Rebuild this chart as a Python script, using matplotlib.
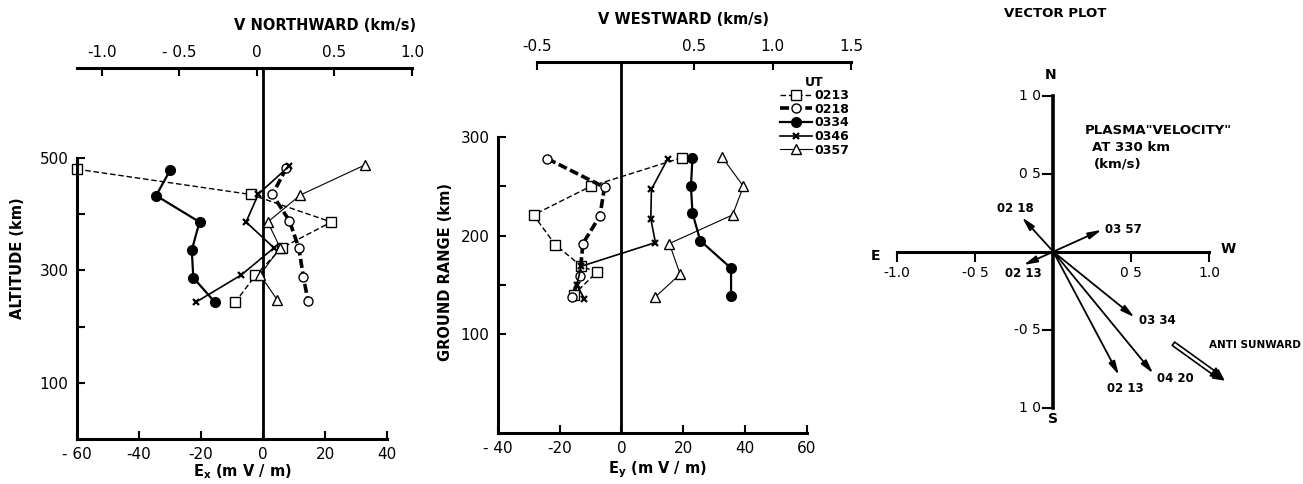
import matplotlib.pyplot as plt
from matplotlib.lines import Line2D

plt.rcParams['font.family'] = 'DejaVu Sans'
plt.rcParams['font.weight'] = 'bold'

# --- left panel: Ex (mV/m) vs altitude (km) ---
ex_0213 = [-60, -4, 22, 6, -2.5, -9]
alt_0213 = [480, 435, 386, 340, 291, 243]
ex_0218 = [7.5, 3, 8.5, 11.5, 13, 14.5]
alt_0218 = [482, 435, 388, 340, 288, 245]
ex_0334 = [-30, -34.5, -20.5, -23, -22.5, -15.5]
alt_0334 = [478, 433, 386, 336, 287, 243]
ex_0346 = [8.5, -1.5, -5.5, 3.5, -7, -21.5]
alt_0346 = [486, 436, 386, 340, 292, 244]
ex_0357 = [33, 12, 1.5, 5.5, -1, 4.5]
alt_0357 = [488, 434, 386, 340, 292, 248]

# --- middle panel: Ey (mV/m) vs ground range (km) ---
ey_0213 = [19.5, -10, -28.5, -21.5, -13, -8, -15.5]
gr_0213 = [279, 250, 221, 191, 169, 163, 140]
ey_0218 = [-24, -5.5, -7, -12.5, -13.5, -16]
gr_0218 = [278, 249, 220, 192, 159, 138]
ey_0334 = [23, 22.5, 23, 25.5, 35.5, 35.5]
gr_0334 = [279, 250, 223, 195, 167, 139]
ey_0346 = [15, 9.7, 9.5, 11, -13, -14.5, -12]
gr_0346 = [278, 247, 217, 193, 169, 150, 136]
ey_0357 = [32.5, 39.5, 36, 15.5, 19, 11]
gr_0357 = [280, 250, 221, 192, 161, 138]

# --- right panel: plasma velocity vectors at 330 km (km/s) ---
vec_labels = ['02 18', '03 57', '02 13', '03 34', '04 20', '02 13']
vec_west = [-0.20, 0.31, -0.19, 0.52, 0.64, 0.42]
vec_north = [0.22, 0.14, -0.085, -0.42, -0.78, -0.79]
anti_sun_start = (0.77, -0.59)
anti_sun_end = (1.09, -0.82)

ut_labels = ['0213', '0218', '0334', '0346', '0357']

W, H = 1303, 484
fig = plt.figure(figsize=(W / 100, H / 100), dpi=100)


def rect(x0, x1, y_top, y_bot):
    return [x0 / W, 1 - y_bot / H, (x1 - x0) / W, (y_bot - y_top) / H]


styles = {
    '0213': dict(color='black', lw=1.0, ls=(0, (4, 2)), marker='s', mfc='white', ms=6.5, mew=1.0),
    '0218': dict(color='black', lw=2.6, ls=(0, (2.5, 1)), marker='o', mfc='white', ms=6.5, mew=1.0),
    '0334': dict(color='black', lw=1.6, ls='-', marker='o', mfc='black', ms=7, mew=1.0),
    '0346': dict(color='black', lw=1.2, ls='-', marker='x', ms=5, mew=1.6),
    '0357': dict(color='black', lw=0.8, ls='-', marker='^', mfc='white', ms=6.5, mew=1.0),
}


def style_axes(ax):
    ax.patch.set_visible(False)
    for s in ['top', 'right']:
        ax.spines[s].set_visible(False)
    for s in ['left', 'bottom']:
        ax.spines[s].set_linewidth(2.2)
    ax.tick_params(direction='in', length=6, width=1.5, labelsize=11, pad=6)
    for lab in ax.get_xticklabels() + ax.get_yticklabels():
        lab.set_fontweight('normal')


# ---------------- left panel ----------------
ax1 = fig.add_axes(rect(77, 412, 68, 439))
ax1.set_xlim(-60, 48)
ax1.set_ylim(0, 660)
series1 = [(ex_0213, alt_0213), (ex_0218, alt_0218), (ex_0334, alt_0334),
           (ex_0346, alt_0346), (ex_0357, alt_0357)]
for k, (xs, ys) in zip(ut_labels, series1):
    ax1.plot(xs, ys, clip_on=False, **styles[k])
ax1.axvline(0, color='black', lw=2.0, zorder=0)
ax1.set_xticks([-60, -40, -20, 0, 20, 40])
ax1.set_xticklabels(['- 60', '-40', '-20', '0', '20', '40'])
ax1.set_yticks([100, 200, 300, 400, 500])
ax1.set_yticklabels(['100', '', '300', '', '500'])
style_axes(ax1)
ax1.spines['bottom'].set_bounds(-60, 40)
ax1.spines['left'].set_bounds(0, 500)
top1 = ax1.secondary_xaxis('top', functions=(lambda e: (e + 2) / 50, lambda v: v * 50 - 2))
top1.spines['top'].set_linewidth(2.2)
top1.set_xticks([-1.0, -0.5, 0, 0.5, 1.0])
top1.set_xticklabels(['-1.0', '- 0.5', '0', '0.5', '1.0'])
top1.tick_params(direction='in', length=6, width=1.5, labelsize=11, pad=6)
for lab in top1.get_xticklabels():
    lab.set_fontweight('normal')
fig.text(325 / W, 1 - 25 / H, 'V NORTHWARD (km/s)', ha='center', va='center', fontsize=10.5)
fig.text(242 / W, 1 - 472 / H, r'E$_\mathregular{x}$ (m V / m)', ha='center', va='center', fontsize=10.5)
fig.text(18 / W, 1 - 258 / H, 'ALTITUDE (km)', ha='center', va='center', rotation=90, fontsize=10.5)

# ---------------- middle panel ----------------
ax2 = fig.add_axes(rect(498, 853, 62, 433))
ax2.set_xlim(-40, 75)
ax2.set_ylim(0, 376)
series2 = [(ey_0213, gr_0213), (ey_0218, gr_0218), (ey_0334, gr_0334),
           (ey_0346, gr_0346), (ey_0357, gr_0357)]
for k, (xs, ys) in zip(ut_labels, series2):
    ax2.plot(xs, ys, clip_on=False, **styles[k])
ax2.axvline(0, color='black', lw=2.0, zorder=0)
ax2.set_xticks([-40, -20, 0, 20, 40, 60])
ax2.set_xticklabels(['- 40', '-20', '0', '20', '40', '60'])
ax2.set_yticks([100, 150, 200, 250, 300])
ax2.set_yticklabels(['100', '', '200', '', '300'])
style_axes(ax2)
ax2.spines['bottom'].set_bounds(-40, 60)
ax2.spines['left'].set_bounds(0, 300)
top2 = ax2.secondary_xaxis('top', functions=(lambda e: (e + 2) / 51, lambda v: v * 51 - 2))
top2.spines['top'].set_linewidth(2.2)
top2.spines['top'].set_bounds(-0.5, 1.5)
top2.set_xticks([-0.5, 0.5, 1.0, 1.5])
top2.set_xticklabels(['-0.5', '0.5', '1.0', '1.5'])
top2.tick_params(direction='in', length=6, width=1.5, labelsize=11, pad=6)
for lab in top2.get_xticklabels():
    lab.set_fontweight('normal')
fig.text(684 / W, 1 - 20 / H, 'V WESTWARD (km/s)', ha='center', va='center', fontsize=10.5)
fig.text(657 / W, 1 - 470 / H, r'E$_\mathregular{y}$ (m V / m)', ha='center', va='center', fontsize=10.5)
fig.text(446 / W, 1 - 272 / H, 'GROUND RANGE (km)', ha='center', va='center', rotation=90, fontsize=10.5)

handles = [Line2D([], [], **styles[k]) for k in ut_labels]
leg = fig.legend(handles, ut_labels, title='UT', loc='upper left',
                 bbox_to_anchor=(772 / W, 1 - 68 / H), frameon=False,
                 handlelength=2.6, handletextpad=0.2, labelspacing=0.05,
                 fontsize=9, title_fontsize=9, borderpad=0.1)
for t in leg.get_texts():
    t.set_fontweight('bold')

# ---------------- right panel (vector plot) ----------------
ox, oy, sc = 1053.3, 251.7, 156.0
ax3 = fig.add_axes(rect(870, 1303, 0, 484))
ax3.set_xlim((870 - ox) / sc, (1303 - ox) / sc)
ax3.set_ylim(-(484 - oy) / sc, oy / sc)
ax3.axis('off')
ax3.plot([-1, 1], [0, 0], color='black', lw=2.2)
ax3.plot([0, 0], [-1, 1], color='black', lw=2.6)
for t in [-1, -0.5, 0.5, 1]:
    ax3.plot([t, t], [0, -0.06], color='black', lw=1.5)
    ax3.plot([0, -0.065], [t, t], color='black', lw=1.5)
for t, s in zip([-1, -0.5, 0.5, 1], ['-1.0', '-0 5', '0 5', '1.0']):
    ax3.text(t, -0.09, s, ha='center', va='top', fontsize=10, fontweight='normal')
for t, s in zip([1, 0.5, -0.5, -1], ['1 0', '0 5', '-0 5', '1 0']):
    ax3.text(-0.08, t, s, ha='right', va='center', fontsize=10, fontweight='normal')
ax3.text(-0.02, 1.13, 'N', ha='center', va='center', fontsize=10)
ax3.text(0.0, -1.07, 'S', ha='center', va='center', fontsize=10)
ax3.text(-1.14, -0.03, 'E', ha='center', va='center', fontsize=10)
ax3.text(1.12, 0.02, 'W', ha='center', va='center', fontsize=10)
ax3.text(0.01, 1.53, 'VECTOR PLOT', ha='center', va='center', fontsize=9.5)
ax3.text(0.2, 0.78, 'PLASMA"VELOCITY"', ha='left', va='center', fontsize=9.5)
ax3.text(0.25, 0.67, 'AT 330 km', ha='left', va='center', fontsize=9.5)
ax3.text(0.26, 0.56, '(km/s)', ha='left', va='center', fontsize=9.5)

label_off = [(-0.04, 0.06), (0.14, 0.0), (0.0, -0.055), (0.15, -0.02), (0.14, -0.03), (0.04, -0.09)]
for lab, vx, vy, (dx, dy) in zip(vec_labels, vec_west, vec_north, label_off):
    ax3.annotate('', xy=(vx, vy), xytext=(0, 0),
                 arrowprops=dict(arrowstyle='-|>,head_length=0.8,head_width=0.2',
                                 color='black', lw=1.3, shrinkA=0, shrinkB=0))
    ax3.text(vx + dx, vy + dy, lab, ha='center', va='center', fontsize=8.5)

ax3.annotate('', xy=anti_sun_end, xytext=anti_sun_start,
             arrowprops=dict(arrowstyle='simple,head_length=0.7,head_width=0.7,tail_width=0.3',
                             fc='white', ec='black', lw=1.2, shrinkA=0, shrinkB=0))
ax3.annotate('', xy=anti_sun_end, xytext=(anti_sun_end[0] - 0.06, anti_sun_end[1] + 0.045),
             arrowprops=dict(arrowstyle='-|>,head_length=0.8,head_width=0.35',
                             color='black', lw=1.0, shrinkA=0, shrinkB=0))
ax3.text(1.29, -0.6, 'ANTI SUNWARD', ha='center', va='center', fontsize=7.5)

fig.savefig('out.png', dpi=100)
